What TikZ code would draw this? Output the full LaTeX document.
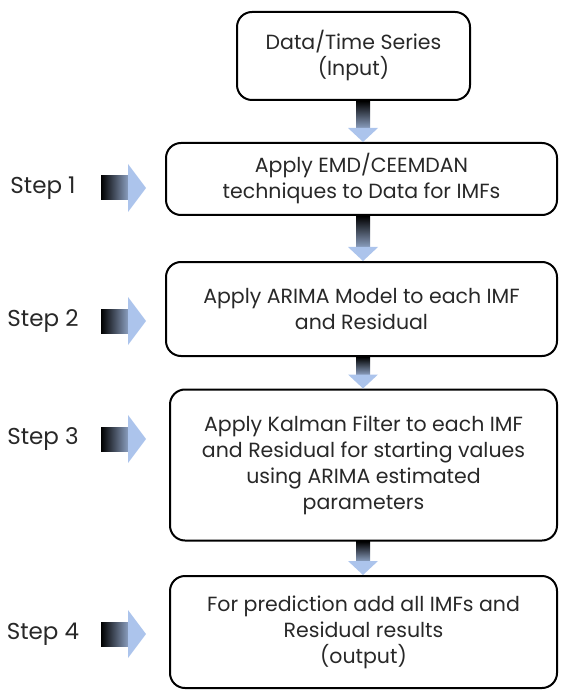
\documentclass[tikz,border=0pt]{standalone}
\usepackage{fontspec}
\setmainfont{Poppins}
\usetikzlibrary{calc}
\definecolor{arrowblue}{RGB}{172,196,236}
\definecolor{txt}{RGB}{40,40,40}
\begin{document}
\begin{tikzpicture}[x=1pt,y=-1pt,
  box/.style={draw, line width=2pt, rounded corners=15pt, align=center,
    font=\fontsize{20.5}{26}\selectfont, inner sep=0pt, text=txt},
  steplabel/.style={font=\fontsize{23}{26}\selectfont, inner sep=0pt, text=txt},
  gradv/.style={top color=black, bottom color=arrowblue!80!black},
  gradh/.style={left color=black, right color=arrowblue!80!black},
  headfill/.style={fill=arrowblue}]
\useasboundingbox (0,0) rectangle (563,692);

\node[box, minimum width=233pt, minimum height=88pt] (b1) at (353.5,56) {Data/Time Series\\(Input)};
\node[box, minimum width=391pt, minimum height=72pt] (b2) at (361.5,179) {Apply EMD/CEEMDAN\\techniques to Data for IMFs};
\node[box, minimum width=391pt, minimum height=94pt] (b3) at (361.5,309) {Apply ARIMA Model to each IMF\\and Residual};
\node[box, minimum width=387pt, minimum height=151pt] (b4) at (363.5,465) {Apply Kalman Filter to each IMF\\and Residual for starting values\\using ARIMA estimated\\parameters};
\node[box, minimum width=387pt, minimum height=112pt] (b5) at (363.5,632) {For prediction add all IMFs and\\Residual results\\(output)};

\node[steplabel] (s1) at (43,188) {Step 1};
\node[steplabel] (s2) at (43,321) {Step 2};
\node[steplabel] (s3) at (43,439) {Step 3};
\node[steplabel] (s4) at (43,634) {Step 4};

% vertical arrows between boxes
\foreach \a/\b in {b1/b2, b2/b3, b3/b4, b4/b5}{
  \shade[gradv] let \p1=(\a.south), \p2=(\b.north) in
    (356pt,\y1) rectangle (370pt,\y2+14pt);
  \fill[headfill] let \p1=(\a.south), \p2=(\b.north) in
    (348pt,\y2+14pt) -- (378pt,\y2+14pt) -- (363pt,\y2) -- cycle;
}

% step arrows pointing at the boxes
\foreach \s in {s1,s2,s3,s4}{
  \shade[gradh] let \p1=(\s.east) in
    (101pt,\y1-12pt) rectangle (128pt,\y1+12pt);
  \fill[headfill] let \p1=(\s.east) in
    (128pt,\y1-24pt) -- (146pt,\y1) -- (128pt,\y1+24pt) -- cycle;
}
\end{tikzpicture}
\end{document}
